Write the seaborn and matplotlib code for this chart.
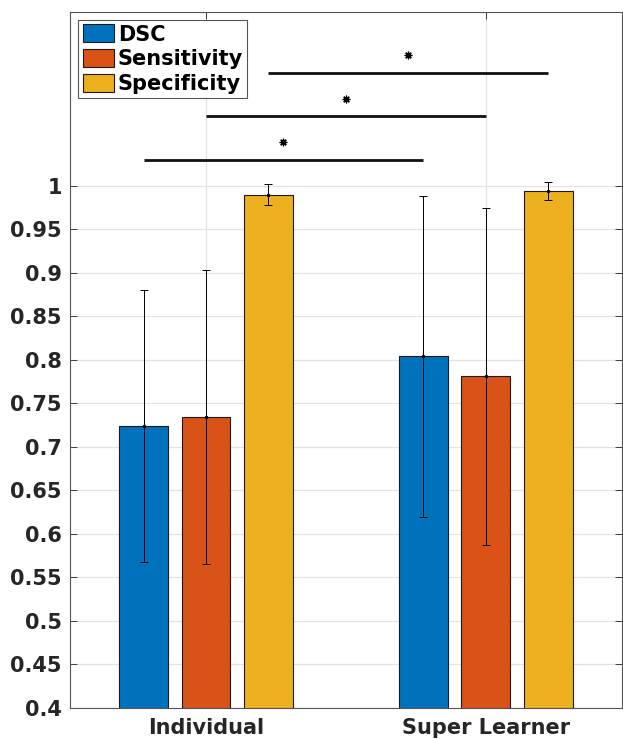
import numpy as np
import pandas as pd
import matplotlib
matplotlib.use('Agg')
import matplotlib.pyplot as plt
import seaborn as sns

sns.set_theme(style="whitegrid")
plt.rcParams['font.family'] = ['DejaVu Sans']
plt.rcParams['font.weight'] = 'bold'

# values
groups = ['Individual', 'Super Learner']
metrics = ['DSC', 'Sensitivity', 'Specificity']
dsc_mean = [0.724, 0.804]
dsc_sd = [0.156, 0.184]
sens_mean = [0.734, 0.781]
sens_sd = [0.169, 0.194]
spec_mean = [0.990, 0.994]
spec_sd = [0.012, 0.010]
colors = ['#0072BD', '#D95319', '#EDB120']

# significance bars (one per metric, Individual vs Super Learner)
sig_line_y = [1.03, 1.08, 1.13]
sig_star_y = [1.05, 1.10, 1.15]

means = [dsc_mean, sens_mean, spec_mean]
sds = [dsc_sd, sens_sd, spec_sd]
df = pd.DataFrame({
    'group': groups * 3,
    'metric': np.repeat(metrics, 2),
    'mean': dsc_mean + sens_mean + spec_mean,
})

fig = plt.figure(figsize=(6.23, 7.39), dpi=100)
ax = fig.add_axes([0.1124, 0.042, 0.8856, 0.9418])
sns.barplot(data=df, x='group', y='mean', hue='metric', hue_order=metrics,
            palette=colors, width=0.669, gap=0.215, errorbar=None,
            edgecolor='#1a1a1a', linewidth=0.8, saturation=1, ax=ax)

bar_conts = list(ax.containers)
centers = []
for i, cont in enumerate(bar_conts):
    xs = [p.get_x() + p.get_width() / 2 for p in cont.patches]
    centers.append(xs)
    ax.errorbar(xs, means[i], yerr=sds[i], fmt='.', color='black', ms=3,
                elinewidth=0.7, capsize=2.7, capthick=0.7, zorder=5)

for i in range(3):
    x0, x1 = centers[i]
    ax.plot([x0, x1], [sig_line_y[i]] * 2, color='#111111', lw=2, solid_capstyle='butt')
    ax.plot((x0 + x1) / 2, sig_star_y[i], marker=(8, 2, 0), ms=5.5, mec='black', mew=0.9, color='black')

ax.set_ylim(0.4, 1.2)
ax.set_xlim(-0.486, 1.486)
ax.set_yticks(np.arange(0.4, 1.0001, 0.05))
ax.set_yticklabels([f'{v:g}' for v in np.round(np.arange(0.4, 1.0001, 0.05), 2)])
ax.set_xlabel('')
ax.set_ylabel('')
ax.grid(True, color='#e2e2e2', lw=0.9)
ax.set_axisbelow(True)
ax.tick_params(axis='both', direction='in', length=5, width=0.6, color='#262626',
               labelsize=15, top=True, right=True, bottom=True, left=True)
ax.tick_params(axis='y', pad=6)
ax.tick_params(axis='x', pad=7)
for lab in ax.get_xticklabels() + ax.get_yticklabels():
    lab.set_fontweight('bold')
    lab.set_color('#262626')
for sp in ax.spines.values():
    sp.set_color('#555555')
    sp.set_linewidth(0.8)

handles, labels = ax.get_legend_handles_labels()
leg = ax.legend(handles, labels, loc='upper left', frameon=True,
                fancybox=False, framealpha=1, edgecolor='#555555',
                handlelength=1.5, handleheight=0.95, handletextpad=0.2,
                labelspacing=0.22, borderpad=0.2, borderaxespad=0.4,
                prop={'weight': 'bold', 'size': 15})
leg.get_frame().set_linewidth(0.8)
for t in leg.get_texts():
    t.set_color('black')

fig.savefig('out.png', dpi=100)
